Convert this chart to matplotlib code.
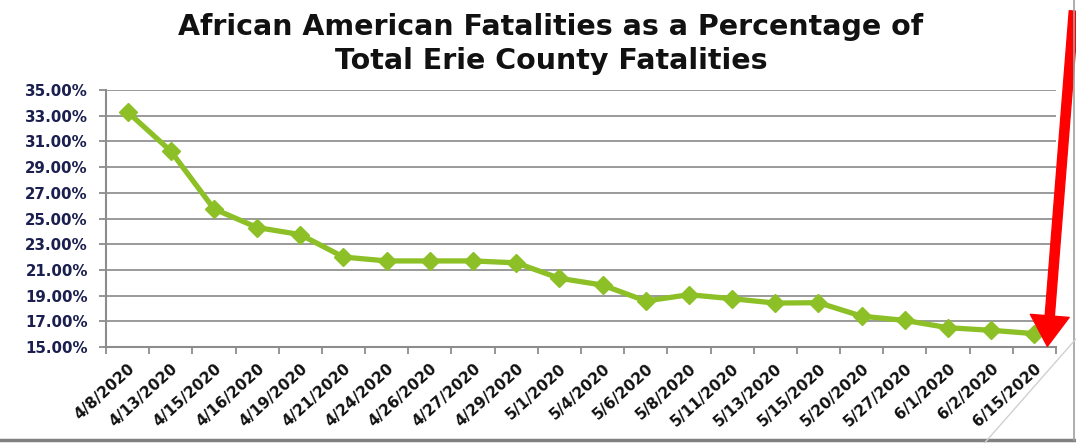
import numpy as np
import matplotlib
matplotlib.use("Agg")
import matplotlib.pyplot as plt
from matplotlib.lines import Line2D
from matplotlib.ticker import FixedLocator, PercentFormatter

# 日付ラベル
dates = ["4/8/2020", "4/13/2020", "4/15/2020", "4/16/2020", "4/19/2020",
         "4/21/2020", "4/24/2020", "4/26/2020", "4/27/2020", "4/29/2020",
         "5/1/2020", "5/4/2020", "5/6/2020", "5/8/2020", "5/11/2020",
         "5/13/2020", "5/15/2020", "5/20/2020", "5/27/2020", "6/1/2020",
         "6/2/2020", "6/15/2020"]

# アフリカ系アメリカ人の死亡者割合[%]
pct = [33.3, 30.25, 25.75, 24.3, 23.75, 22.0, 21.7, 21.7, 21.7, 21.55,
       20.35, 19.82, 18.58, 19.07, 18.76, 18.42, 18.45, 17.4, 17.07, 16.5,
       16.3, 16.04]

yticks = np.arange(15, 36, 2)

fig = plt.figure(figsize=(10.76, 4.43), dpi=100)
ax = fig.add_axes([0.0985, 0.2167, 0.8829, 0.58])

x = np.arange(len(dates))
ax.plot(x, pct, color="#8CC026", lw=3.8, marker="D", ms=9,
        solid_joinstyle="round", zorder=3)

ax.set_xlim(-0.5, len(dates) - 0.5)
ax.set_ylim(15, 35)

# 軸の設定
ax.set_yticks(yticks)
ax.yaxis.set_major_formatter(PercentFormatter(decimals=2))
ax.set_xticks(x)
ax.set_xticklabels(dates, rotation=42, ha="right", rotation_mode="anchor",
                   fontsize=11, fontweight="bold", color="#111111")
ax.xaxis.set_minor_locator(FixedLocator(np.arange(-0.5, len(dates), 1)))
ax.tick_params(axis="x", which="major", length=0, pad=10)
ax.tick_params(axis="x", which="minor", length=5, width=1.3, color="#8c8c8c")
ax.tick_params(axis="y", length=5, width=1.3, color="#8c8c8c",
               labelsize=10.8, labelcolor="#1b1f4f", pad=8)
for lbl in ax.get_yticklabels():
    lbl.set_fontweight("bold")

ax.grid(axis="y", color="#9a9a9a", lw=1.4)
ax.set_axisbelow(True)
for side in ["top", "right"]:
    ax.spines[side].set_visible(False)
for side in ["left", "bottom"]:
    ax.spines[side].set_color("#8c8c8c")
    ax.spines[side].set_linewidth(1.5)

# タイトル
fig.text(0.512, 0.9, "African American Fatalities as a Percentage of\nTotal Erie County Fatalities",
         ha="center", va="center", fontsize=20.5, fontfamily="DejaVu Sans",
         fontweight="bold", color="#111111", linespacing=1.28)

# 赤い矢印
ax.annotate("", xy=(21.3, 15.05), xycoords="data",
            xytext=(0.998, 0.975), textcoords="figure fraction",
            arrowprops=dict(arrowstyle="simple,head_width=1.4,head_length=1.1,tail_width=0.33",
                            color="#ff0000", mutation_scale=20, shrinkA=0, shrinkB=0),
            annotation_clip=False, zorder=5)

# 枠と装飾線
fig.add_artist(Line2D([0, 1], [0.006, 0.006], color="#808080", lw=2.5))
fig.add_artist(Line2D([0.998, 0.998], [0.006, 1], color="#a0a0a0", lw=1.2))
fig.add_artist(Line2D([0.915, 1.0], [0.0, 0.235], color="#d0d0d0", lw=1.0))

fig.savefig("out.png", dpi=100)
